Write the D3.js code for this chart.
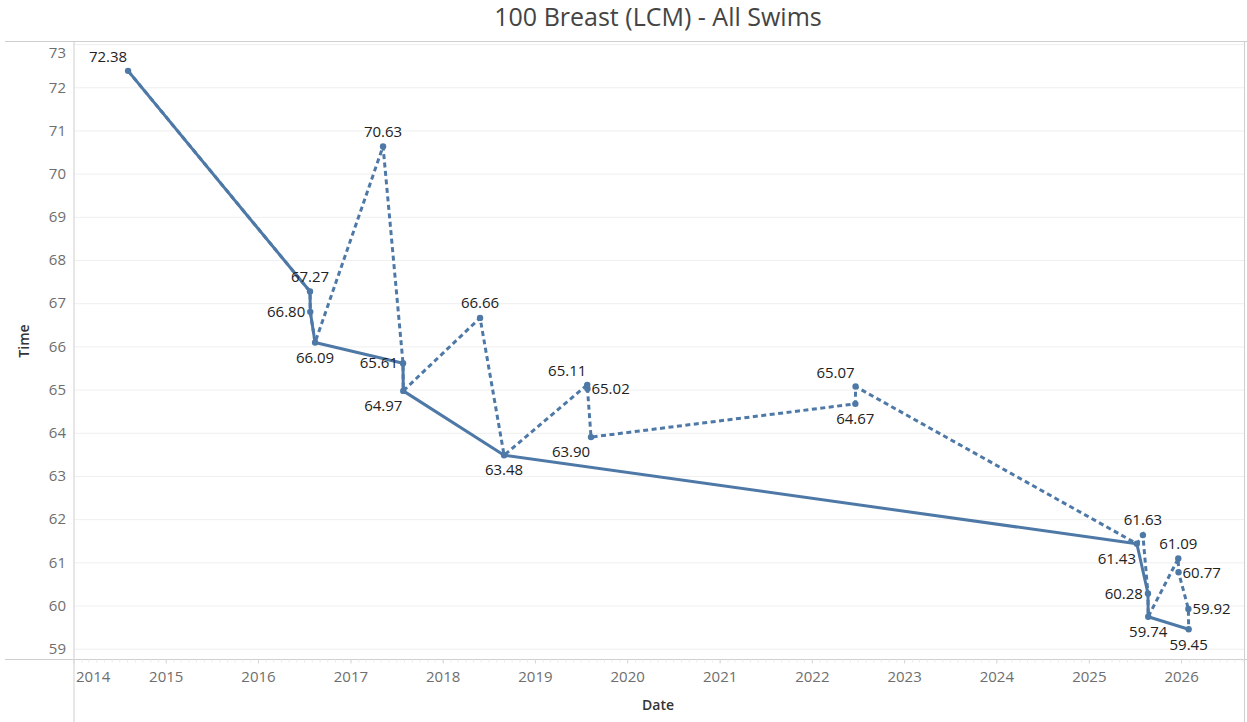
<!DOCTYPE html>
<html>
<head>
<meta charset="utf-8">
<script src="https://cdn.jsdelivr.net/npm/d3@7"></script>
<style>
    body { margin: 0; background: #fff; font-family: 'Open Sans', 'Noto Sans', sans-serif; }
    .gridline line { stroke: #efefef; }
    .gridline path { stroke: none; }
    .frame { stroke: #cfcfcf; stroke-width: 1; }
</style>
</head>
<body>
<div id="chart"></div>
<script>
// every swim, in date order
const swimDates = [
    '2014-08-03', '2016-07-23', '2016-07-24', '2016-08-12', '2017-05-08',
    '2017-07-26', '2017-07-27', '2018-05-27', '2018-08-30', '2019-07-25',
    '2019-07-26', '2019-08-09', '2022-06-20', '2022-06-21', '2025-07-08',
    '2025-08-01', '2025-08-21', '2025-08-22', '2025-12-19', '2025-12-20',
    '2026-01-28', '2026-01-29'
];
const swimTimes = [
    72.38, 67.27, 66.80, 66.09, 70.63,
    65.61, 64.97, 66.66, 63.48, 65.11,
    65.02, 63.90, 64.67, 65.07, 61.43,
    61.63, 60.28, 59.74, 61.09, 60.77,
    59.92, 59.45
];

// personal best progression
const bestDates = [
    '2014-08-03', '2016-07-23', '2016-07-24', '2016-08-12', '2017-07-26',
    '2017-07-27', '2018-08-30', '2025-07-08', '2025-08-21', '2025-08-22',
    '2026-01-29'
];
const bestTimes = [72.38, 67.27, 66.80, 66.09, 65.61, 64.97, 63.48, 61.43, 60.28, 59.74, 59.45];

const yTicks = [59, 60, 61, 62, 63, 64, 65, 66, 67, 68, 69, 70, 71, 72, 73];
const xTickYears = [2014, 2015, 2016, 2017, 2018, 2019, 2020, 2021, 2022, 2023, 2024, 2025, 2026];

// where each swim's label sits relative to its mark
const labelSpots = [
    'NW', 'N', 'W', 'S', 'N',
    'W', 'SW', 'N', 'S', 'NW',
    'E', 'SW', 'S', 'NW', 'SW',
    'N', 'W', 'S', 'N', 'E',
    'E', 'S'
];

const parse = d3.timeParse('%Y-%m-%d');
const swims = swimDates.map((d, i) => ({ date: parse(d), time: swimTimes[i], spot: labelSpots[i] }));
const bests = bestDates.map((d, i) => ({ date: parse(d), time: bestTimes[i] }));

const width = 1247;
const height = 722;
const color = '#4e79a7';

const plotLeft = 74;
const plotRight = 1245;
const plotTop = 41.5;
const plotBottom = 659.5;

const svg = d3.select('#chart')
    .append('svg')
    .attr('width', width)
    .attr('height', height);

const xScale = d3.scaleTime()
    .domain([parse('2014-01-01'), parse('2026-09-09')])
    .range([plotLeft, plotRight]);
const yScale = d3.scaleLinear()
    .domain([58.75, 73.06])
    .range([plotBottom, plotTop]);

// title
svg.append('text')
    .attr('x', 658)
    .attr('y', 26)
    .attr('text-anchor', 'middle')
    .style('font-size', '25px')
    .style('fill', '#444')
    .text('100 Breast (LCM) - All Swims');

// horizontal gridlines
svg.append('g')
    .classed('gridline', true)
    .attr('transform', `translate(${plotLeft},0)`)
    .call(d3.axisLeft(yScale).tickValues(yTicks).tickSize(-(plotRight - plotLeft)).tickFormat(''));

// frame lines
svg.append('line').classed('frame', true)
    .attr('x1', 5).attr('x2', width).attr('y1', plotTop).attr('y2', plotTop);
svg.append('line').classed('frame', true)
    .attr('x1', 5).attr('x2', width).attr('y1', plotBottom).attr('y2', plotBottom);
svg.append('line').classed('frame', true)
    .attr('x1', plotLeft).attr('x2', plotLeft).attr('y1', plotTop).attr('y2', height);
svg.append('line').classed('frame', true)
    .attr('x1', plotRight - 0.5).attr('x2', plotRight - 0.5).attr('y1', plotTop).attr('y2', height);

// y tick labels
svg.append('g')
    .selectAll('text')
    .data(yTicks)
    .enter()
    .append('text')
    .attr('x', 66)
    .attr('y', d => d === 73 ? yScale(d) + 9 : yScale(d))
    .attr('dy', '0.35em')
    .attr('text-anchor', 'end')
    .style('font-size', '15px')
    .style('fill', '#6e6e6e')
    .text(d => d);

// x axis: month ticks and year ticks
svg.append('g')
    .selectAll('line')
    .data(xScale.ticks(d3.timeMonth.every(1)))
    .enter()
    .append('line')
    .attr('x1', d => xScale(d)).attr('x2', d => xScale(d))
    .attr('y1', plotBottom).attr('y2', plotBottom + 3)
    .attr('stroke', '#ececec');

const years = xTickYears.map(y => new Date(y, 0, 1));
svg.append('g')
    .selectAll('line')
    .data(years)
    .enter()
    .append('line')
    .attr('x1', d => xScale(d)).attr('x2', d => xScale(d))
    .attr('y1', plotBottom).attr('y2', plotBottom + 4)
    .attr('stroke', '#d6d6d6');

svg.append('g')
    .selectAll('text')
    .data(years)
    .enter()
    .append('text')
    .attr('x', (d, i) => i === 0 ? xScale(d) + 2 : xScale(d))
    .attr('y', 677)
    .attr('dy', '0.35em')
    .attr('text-anchor', (d, i) => i === 0 ? 'start' : 'middle')
    .style('font-size', '15px')
    .style('fill', '#6e6e6e')
    .text(d => d.getFullYear());

// axis titles
svg.append('text')
    .attr('transform', `translate(29, 341) rotate(-90)`)
    .attr('text-anchor', 'middle')
    .style('font-size', '14px')
    .style('font-weight', '600')
    .style('fill', '#333')
    .text('Time');
svg.append('text')
    .attr('x', 658)
    .attr('y', 710)
    .attr('text-anchor', 'middle')
    .style('font-size', '14px')
    .style('font-weight', '600')
    .style('fill', '#333')
    .text('Date');

const line = d3.line()
    .x(d => xScale(d.date))
    .y(d => yScale(d.time));

svg.append('path')
    .datum(swims)
    .attr('d', line)
    .attr('fill', 'none')
    .attr('stroke', color)
    .attr('stroke-width', 3)
    .attr('stroke-dasharray', '5,3.5');

svg.append('path')
    .datum(bests)
    .attr('d', line)
    .attr('fill', 'none')
    .attr('stroke', color)
    .attr('stroke-width', 3)
    .attr('stroke-linejoin', 'round');

svg.selectAll('.dot')
    .data(swims)
    .enter()
    .append('circle')
    .classed('dot', true)
    .attr('cx', d => xScale(d.date))
    .attr('cy', d => yScale(d.time))
    .attr('r', 3.2)
    .attr('fill', color);

const offsets = {
    N: { dx: 0, dy: -15, anchor: 'middle' },
    S: { dx: 0, dy: 15, anchor: 'middle' },
    W: { dx: -5, dy: 0, anchor: 'end' },
    E: { dx: 4, dy: 0, anchor: 'start' },
    NW: { dx: -20, dy: -14, anchor: 'middle' },
    SW: { dx: -20, dy: 15, anchor: 'middle' }
};

svg.selectAll('.bar-label')
    .data(swims)
    .enter()
    .append('text')
    .classed('bar-label', true)
    .attr('x', d => xScale(d.date) + offsets[d.spot].dx)
    .attr('y', d => yScale(d.time) + offsets[d.spot].dy)
    .attr('dy', '0.35em')
    .attr('text-anchor', d => offsets[d.spot].anchor)
    .style('font-size', '15px')
    .style('fill', '#222')
    .text(d => d.time.toFixed(2));
</script>
</body>
</html>
